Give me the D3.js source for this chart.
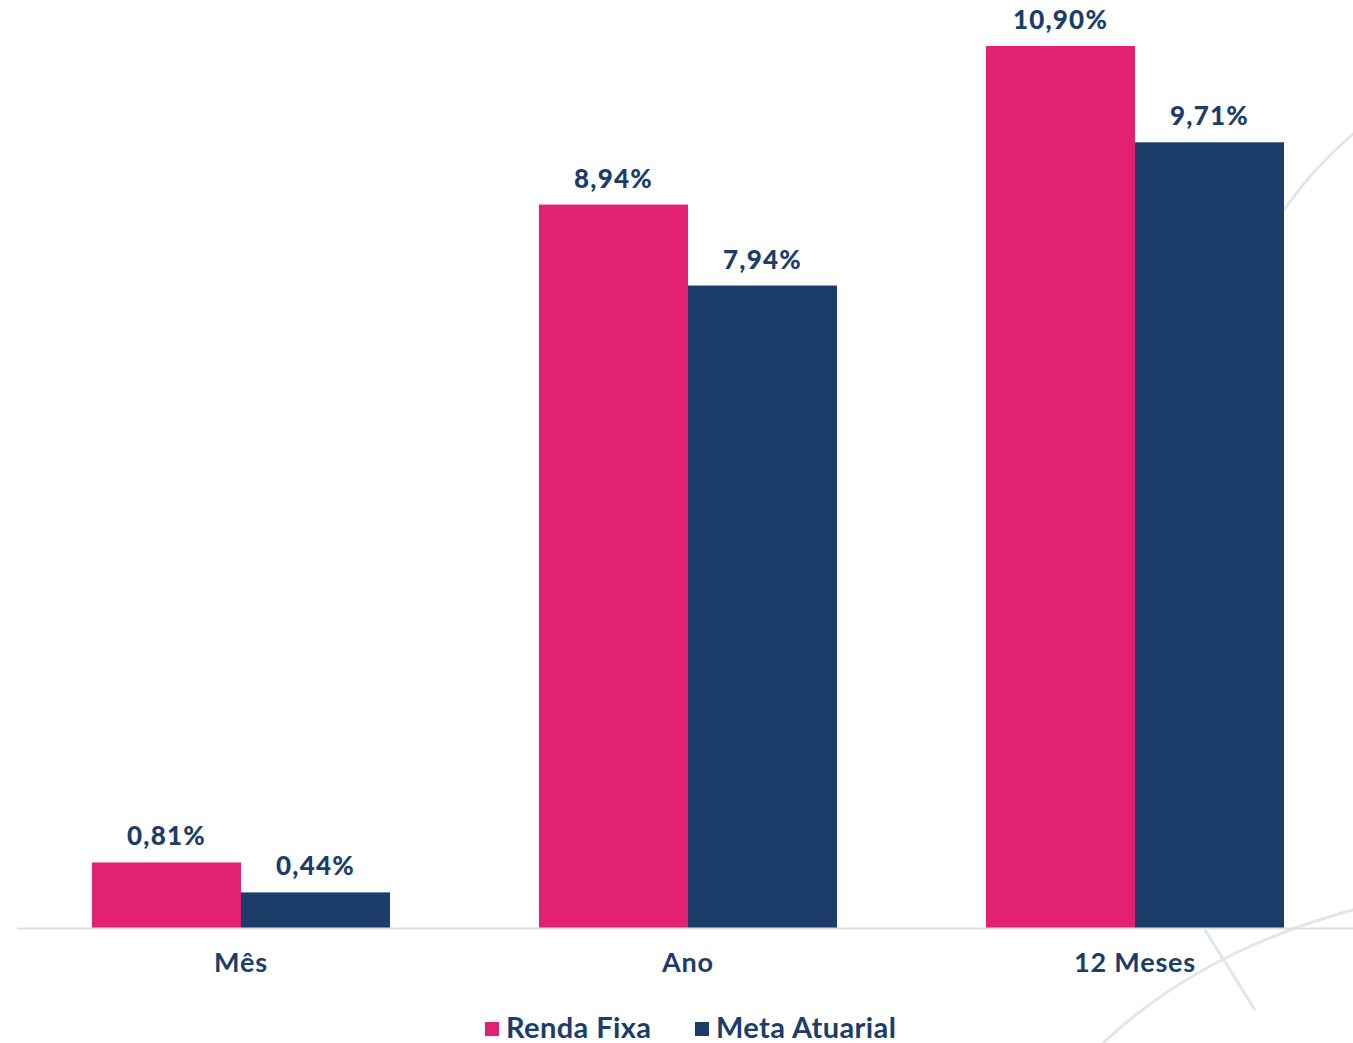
<!DOCTYPE html>
<html>
<head>
<meta charset="utf-8">
<title>Renda Fixa x Meta Atuarial</title>
<script src="https://cdn.jsdelivr.net/npm/d3@7"></script>
<style>
  body { margin: 0; background: #ffffff; }
  svg { display: block; }
</style>
</head>
<body>
<script>
// Data
var categories = ["Mês", "Ano", "12 Meses"];
var rendaFixa = [0.81, 8.94, 10.90];
var metaAtuarial = [0.44, 7.94, 9.71];
var seriesNames = ["Renda Fixa", "Meta Atuarial"];
var seriesColors = ["#e32172", "#1c3d6a"];

var w = 1353;
var h = 1043;
var textColor = "#1c3d6a";
var font = "Lato, 'Open Sans', sans-serif";

var svg = d3.select("body").append("svg").attr("width", w).attr("height", h);

// Decorative background strokes (light grey)
var deco = svg.append("g").attr("fill", "none").attr("stroke", "#e2e5ea")
  .attr("stroke-width", 3);
deco.append("path").attr("d", "M1100,1046 Q1200,950 1360,908");
deco.append("path").attr("d", "M1205,930 L1255,1010");
deco.append("path").attr("d", "M1284,210 Q1315,165 1360,128");

// Scales
var x0 = d3.scaleBand().domain(categories).range([17.5, 1358.5])
  .paddingInner(1 / 3).paddingOuter(1 / 6);
var x1 = d3.scaleBand().domain(seriesNames).range([0, x0.bandwidth()]);
var y = d3.scaleLinear().domain([0, 10.9]).range([928, 46]);

// Rows built from the arrays
var rows = categories.map(function(c, i) {
  return { cat: c, values: [rendaFixa[i], metaAtuarial[i]] };
});

var groups = svg.selectAll("g.group").data(rows).enter().append("g")
  .attr("class", "group")
  .attr("transform", function(d) { return "translate(" + x0(d.cat) + ",0)"; });

groups.selectAll("rect").data(function(d) {
    return d.values.map(function(v, j) { return { name: seriesNames[j], v: v, j: j }; });
  }).enter().append("rect")
  .attr("x", function(d) { return x1(d.name); })
  .attr("y", function(d) { return y(d.v); })
  .attr("width", x1.bandwidth())
  .attr("height", function(d) { return y(0) - y(d.v); })
  .attr("fill", function(d) { return seriesColors[d.j]; });

// Value labels
groups.selectAll("text.val").data(function(d) {
    return d.values.map(function(v, j) { return { name: seriesNames[j], v: v }; });
  }).enter().append("text")
  .attr("class", "val")
  .attr("x", function(d) { return x1(d.name) + x1.bandwidth() / 2; })
  .attr("y", function(d) { return y(d.v) - 17; })
  .attr("text-anchor", "middle")
  .style("font-family", font).style("font-weight", "900")
  .style("font-size", "26px").style("letter-spacing", "1.2px")
  .attr("fill", textColor)
  .text(function(d) { return d.v.toFixed(2).replace(".", ",") + "%"; });

// Baseline / x axis
var xAxis = d3.axisBottom(x0).tickSize(0).tickPadding(25);
var axisG = svg.append("g").attr("transform", "translate(0," + y(0) + ")").call(xAxis);
axisG.select(".domain").attr("d", "M17,0.5H1353").attr("stroke", "#e0e0e0").attr("stroke-width", 2);
axisG.selectAll("text")
  .style("font-family", font).style("font-weight", "bold")
  .style("font-size", "27px").style("letter-spacing", "0.8px")
  .attr("fill", textColor);

// Legend
var legendX = [485, 695];
var legend = svg.selectAll("g.legend").data(seriesNames).enter().append("g")
  .attr("class", "legend")
  .attr("transform", function(d, i) { return "translate(" + legendX[i] + ",1022)"; });
legend.append("rect").attr("width", 14).attr("height", 14)
  .attr("fill", function(d, i) { return seriesColors[i]; });
legend.append("text").attr("x", 21).attr("y", 16)
  .style("font-family", font).style("font-weight", "bold")
  .style("font-size", "29px").style("letter-spacing", "0.4px")
  .attr("fill", textColor)
  .text(function(d) { return d; });
</script>
</body>
</html>
